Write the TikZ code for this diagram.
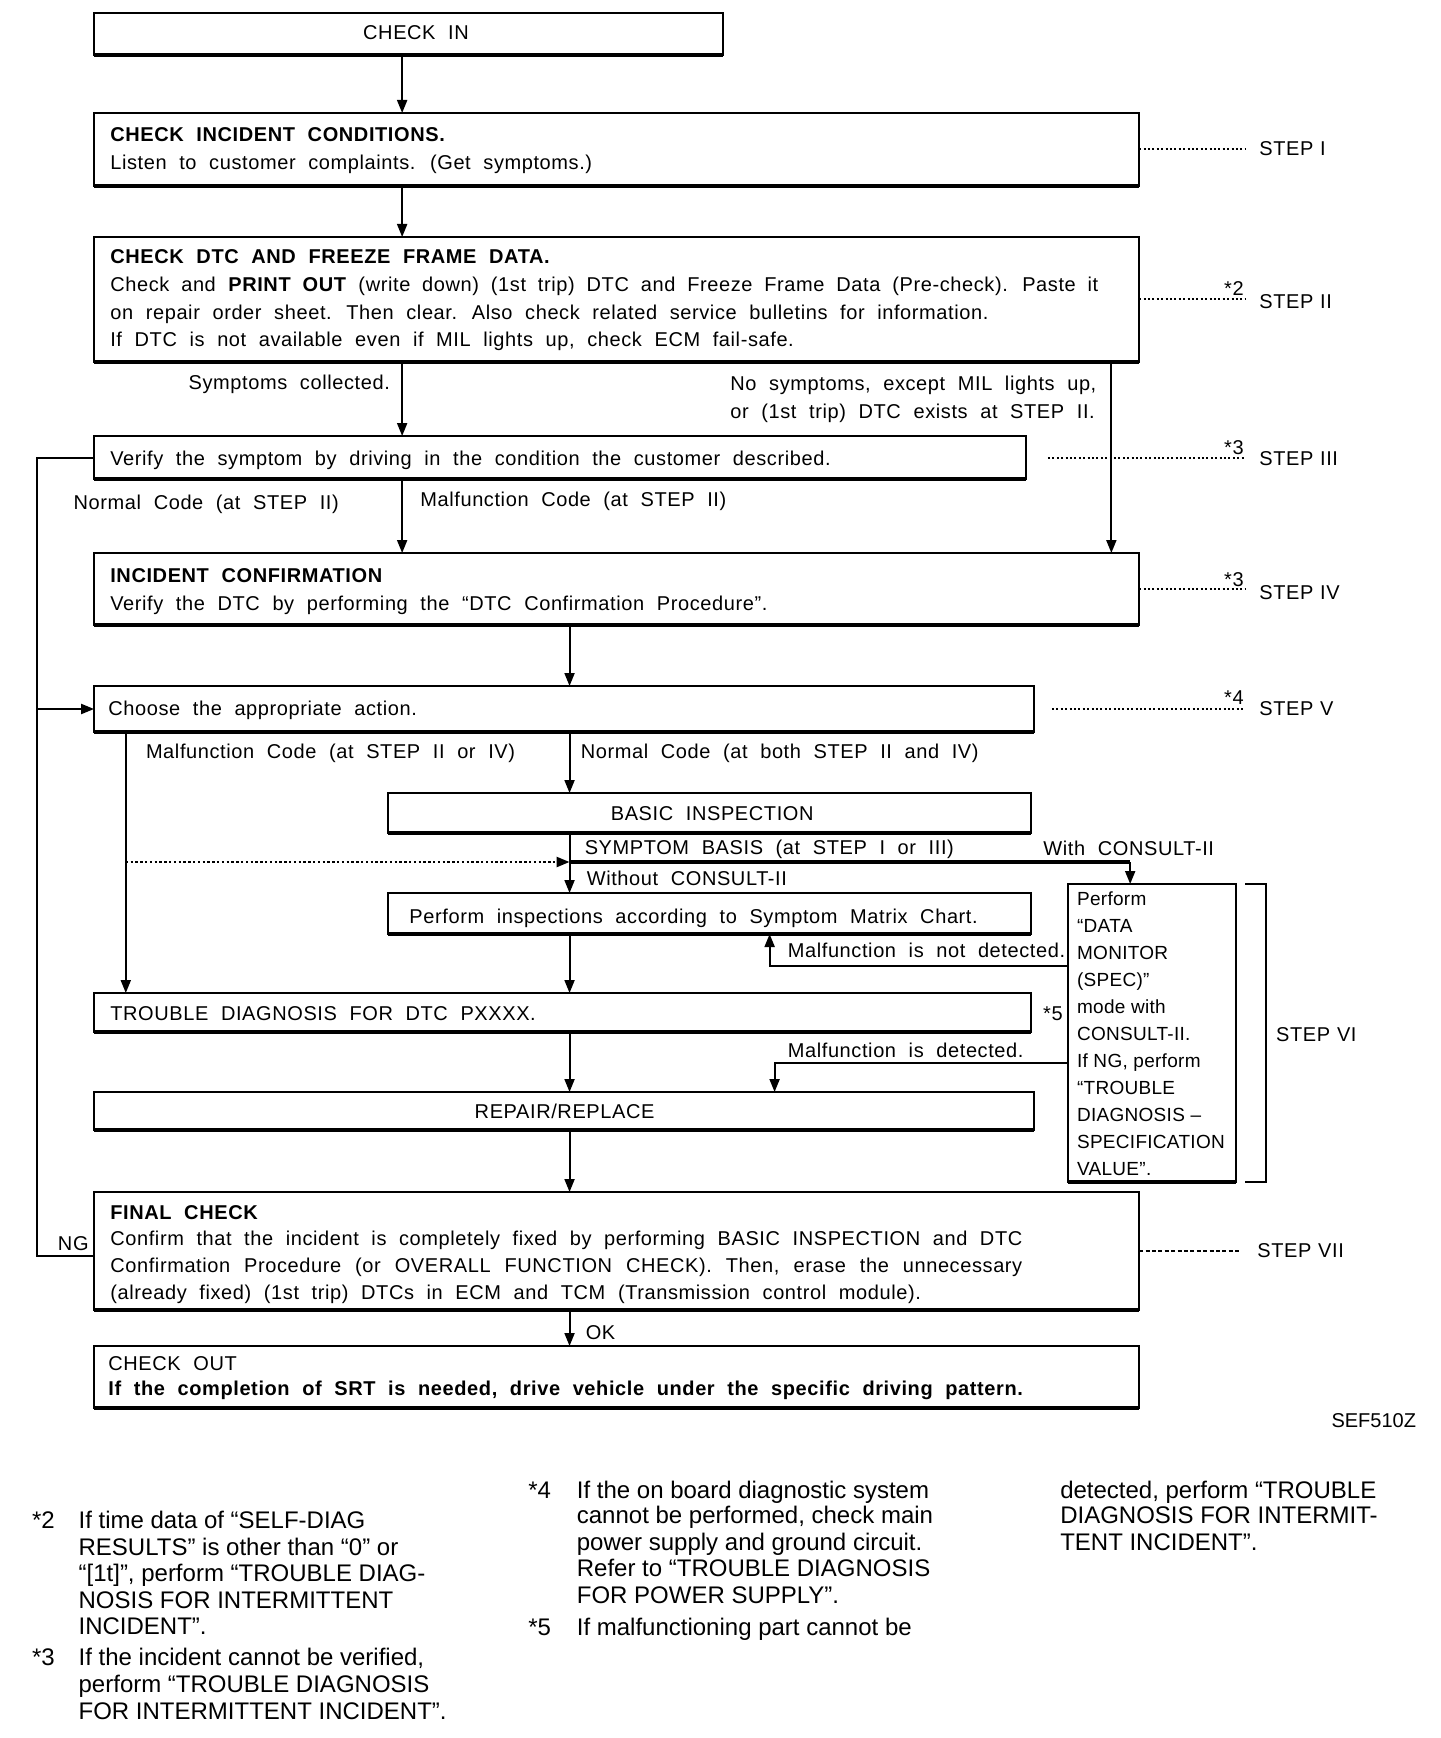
\documentclass[tikz,border=0pt]{standalone}
\usepackage{fontspec}
\setmainfont{Liberation Sans}[WordSpace=2.05, LetterSpace=3]
\newfontfamily\fnfont{Liberation Sans}
\newfontfamily\plainfont{Liberation Sans}[LetterSpace=1.5]
\usetikzlibrary{arrows.meta}
\newcommand\flowbox[5]{%
  \node[boxst, minimum width={(#4-#2)*0.49525pt}, minimum height={(#5-#3)*0.5pt}] (#1) at (#2,#3) {};
  \draw[line width=1.7pt] (#1.south west) -- (#1.south east);}
\newcommand\jline[2]{\makebox[#1][s]{#2}}
\newcommand\stp[1]{STEP\hspace{3.4pt}#1}
\begin{document}
\begin{tikzpicture}[x=0.49525pt,y=-0.5pt,
  boxst/.style={draw, line width=0.9pt, inner sep=0pt, outer sep=0pt, anchor=north west},
  txt/.style={anchor=west, inner sep=0pt, text height=7pt, text depth=0pt, font=\fontsize{10pt}{12pt}\selectfont},
  ctxt/.style={anchor=west, inner sep=0pt, text height=7pt, text depth=0pt, font=\plainfont\fontsize{9.5pt}{12pt}\selectfont},
  fn/.style={anchor=west, inner sep=0pt, text height=8.6pt, text depth=0pt, font=\fnfont\fontsize{12pt}{13pt}\selectfont},
  arr/.style={line width=1pt, -{Triangle[length=6.5pt,width=5pt]}},
  conn/.style={line width=1pt},
  stepdot/.style={line width=1pt, dash pattern=on 1pt off 1.2pt},
  stepdash/.style={line width=0.6pt, dash pattern=on 2pt off 1.2pt},
]
\useasboundingbox (0,0) rectangle (1454,1738);

% ---------- boxes ----------
\flowbox{checkin}{95}{13}{730}{55}
\flowbox{b1}{95}{113}{1150}{186}
\flowbox{b2}{95}{237}{1150}{362}
\flowbox{b3}{95}{436}{1036}{479}
\flowbox{b4}{95}{553}{1150}{625}
\flowbox{b5}{95}{686}{1044}{732}
\flowbox{bi}{392}{793}{1041}{833}
\flowbox{pi}{392}{893}{1041}{934}
\flowbox{td}{95}{993}{1041}{1032}
\flowbox{rr}{95}{1092}{1044}{1130}
\flowbox{fc}{95}{1192}{1150}{1310}
\flowbox{co}{95}{1346}{1150}{1408}
\flowbox{cons}{1078}{884}{1248}{1182}

% ---------- box texts ----------
\node[txt, anchor=center] (t0) at (420,33) {CHECK IN};
\node[txt] (t1a) at (111,135) {\textbf{CHECK INCIDENT CONDITIONS.}};
\node[txt] (t1b) at (111,163) {Listen to customer complaints. (Get symptoms.)};
\node[txt] (t2a) at (111,257) {\textbf{CHECK DTC AND FREEZE FRAME DATA.}};
\node[txt] (t2b) at (111,285) {\jline{494pt}{Check and \textbf{PRINT OUT} (write down) (1st trip) DTC and Freeze Frame Data (Pre-check). Paste it}};
\node[txt] (t2c) at (111,313) {on repair order sheet. Then clear. Also check related service bulletins for information.};
\node[txt] (t2d) at (111,340) {If DTC is not available even if MIL lights up, check ECM fail-safe.};
\node[txt] (t3) at (111,458) {Verify the symptom by driving in the condition the customer described.};
\node[txt] (t4a) at (111,575) {\textbf{INCIDENT CONFIRMATION}};
\node[txt] (t4b) at (111,603) {Verify the DTC by performing the “DTC Confirmation Procedure”.};
\node[txt] (t5) at (109,708) {Choose the appropriate action.};
\node[txt, anchor=center] (tbi) at (719,813) {BASIC INSPECTION};
\node[txt] (tpi) at (413,916) {Perform inspections according to Symptom Matrix Chart.};
\node[txt] (ttd) at (111,1013) {TROUBLE DIAGNOSIS FOR DTC PXXXX.};
\node[txt, anchor=center] (trr) at (570,1111) {REPAIR/REPLACE};
\node[txt] (tfa) at (111,1212) {\textbf{FINAL CHECK}};
\node[txt] (tfb) at (111,1238) {\jline{456pt}{Confirm that the incident is completely fixed by performing BASIC INSPECTION and DTC}};
\node[txt] (tfc) at (111,1265) {\jline{456pt}{Confirmation Procedure (or OVERALL FUNCTION CHECK). Then, erase the unnecessary}};
\node[txt] (tfd) at (111,1292) {(already fixed) (1st trip) DTCs in ECM and TCM (Transmission control module).};
\node[txt] (tca) at (109,1363) {CHECK OUT};
\node[txt] (tcb) at (109,1388) {\textbf{If the completion of SRT is needed, drive vehicle under the specific driving pattern.}};

% consult box lines
\node[ctxt] (c1) at (1087,898) {Perform};
\node[ctxt] (c2) at (1087,925) {“DATA};
\node[ctxt] (c3) at (1087,952) {MONITOR};
\node[ctxt] (c4) at (1087,979) {(SPEC)”};
\node[ctxt] (c5) at (1087,1006) {mode with};
\node[ctxt] (c6) at (1087,1033) {CONSULT-II.};
\node[ctxt] (c7) at (1087,1060) {If NG, perform};
\node[ctxt] (c8) at (1087,1087) {“TROUBLE};
\node[ctxt] (c9) at (1087,1114) {DIAGNOSIS –};
\node[ctxt] (c10) at (1087,1141) {SPECIFICATION};
\node[ctxt] (c11) at (1087,1168) {VALUE”.};

% ---------- connector labels ----------
\node[txt, anchor=east] (l1) at (394,382) {Symptoms collected.};
\node[txt] (l2) at (737,383) {No symptoms, except MIL lights up,};
\node[txt] (l3) at (737,411) {or (1st trip) DTC exists at STEP II.};
\node[txt] (l4) at (74,502) {Normal Code (at STEP II)};
\node[txt] (l5) at (424,499) {Malfunction Code (at STEP II)};
\node[txt] (l6) at (147,751) {Malfunction Code (at STEP II or IV)};
\node[txt] (l7) at (586,751) {Normal Code (at both STEP II and IV)};
\node[txt] (l8) at (590,847) {SYMPTOM BASIS (at STEP I or III)};
\node[txt] (l9) at (1053,848) {With CONSULT-II};
\node[txt] (l10) at (592,878) {Without CONSULT-II};
\node[txt] (l11) at (795,950) {Malfunction is not detected.};
\node[txt] (l12) at (795,1050) {Malfunction is detected.};
\node[txt, anchor=center] (l13) at (1063,1013) {*5};
\node[txt, anchor=center] (ng) at (74,1243) {NG};
\node[txt] (ok) at (591,1332) {OK};
\node[txt, anchor=east, font=\fnfont\fontsize{10pt}{12pt}\selectfont] (sef) at (1430,1420) {SEF510Z};

% ---------- connectors ----------
\draw[arr] (406,0 |- checkin.south) -- (406,0 |- b1.north);
\draw[arr] (406,0 |- b1.south) -- (406,0 |- b2.north);
\draw[arr] (406,0 |- b2.south) -- (406,0 |- b3.north);
\draw[arr] (1122,0 |- b2.south) -- (1122,0 |- b4.north);
\draw[arr] (406,0 |- b3.south) -- (406,0 |- b4.north);
\draw[arr] (575,0 |- b4.south) -- (575,0 |- b5.north);
\coordinate (ngend) at ([yshift=-2.5pt]fc.west);
\draw[conn] (b3.west) -- (37,0 |- b3.west) -- (37,0 |- ngend) -- (ngend);
\coordinate (lj) at (37,0 |- b5.west);
\draw[arr] (lj) -- (b5.west);
\draw[arr] (575,0 |- b5.south) -- (575,0 |- bi.north);
\draw[arr] (127,0 |- b5.south) -- (127,0 |- td.north);
\coordinate (jn) at (575,862);
\coordinate (dl) at (127,862);
\coordinate (jr) at (1141,862);
\draw[arr] (575,0 |- bi.south) -- (575,0 |- pi.north);
\draw[line width=1.6pt] (jn) -- (jr);
\draw[arr] (jr) -- (jr |- cons.north);
\draw[line width=1.2pt, dash pattern=on 1.2pt off 1.2pt, -{Triangle[length=6.5pt,width=5pt]}] (dl) -- (jn);
\draw[arr] (cons.west |- 0,966) -- (777,966) -- (777,0 |- pi.south);
\draw[arr] (575,0 |- pi.south) -- (575,0 |- td.north);
\draw[arr] (575,0 |- td.south) -- (575,0 |- rr.north);
\draw[arr] (cons.west |- 0,1063) -- (782,1063) -- (782,0 |- rr.north);
\draw[arr] (575,0 |- rr.south) -- (575,0 |- fc.north);
\draw[arr] (575,0 |- fc.south) -- (575,0 |- co.north);

% ---------- step marks ----------
\draw[stepdot] (b1.east) -- (1257,0 |- b1.east);
\node[txt] (s1) at (1271,149) {\stp{I}};
\draw[stepdot] (b2.east) -- (1257,0 |- b2.east);
\node[txt, anchor=base east] (n2) at (1256,296) {*2};
\node[txt] (s2) at (1271,302) {\stp{II}};
\draw[stepdot] (1058,0 |- b3.east) -- (1257,0 |- b3.east);
\node[txt, anchor=base east] (n3) at (1256,454) {*3};
\node[txt] (s3) at (1271,458) {\stp{III}};
\draw[stepdot] (b4.east) -- (1257,0 |- b4.east);
\node[txt, anchor=base east] (n3b) at (1256,586) {*3};
\node[txt] (s4) at (1271,592) {\stp{IV}};
\draw[stepdot] (1062,0 |- b5.east) -- (1257,0 |- b5.east);
\node[txt, anchor=base east] (n4) at (1256,704) {*4};
\node[txt] (s5) at (1271,708) {\stp{V}};
\draw[line width=1pt] (1257,0 |- cons.north) -- (1278,0 |- cons.north) -- (1278,0 |- cons.south) -- (1257,0 |- cons.south);
\node[txt] (s6) at (1288,1034) {\stp{VI}};
\draw[stepdash] (fc.east) -- (1252,0 |- fc.east);
\node[txt] (s7) at (1269,1250) {\stp{VII}};

% ---------- footnotes ----------
\node[fn] (f2) at (32,1520) {*2};
\node[fn] (f2a) at (79,1520) {If time data of “SELF-DIAG};
\node[fn] (f2b) at (79,1547) {RESULTS” is other than “0” or};
\node[fn] (f2c) at (79,1573) {“[1t]”, perform “TROUBLE DIAG-};
\node[fn] (f2d) at (79,1600) {NOSIS FOR INTERMITTENT};
\node[fn] (f2e) at (79,1626) {INCIDENT”.};
\node[fn] (f3) at (32,1657) {*3};
\node[fn] (f3a) at (79,1657) {If the incident cannot be verified,};
\node[fn] (f3b) at (79,1684) {perform “TROUBLE DIAGNOSIS};
\node[fn] (f3c) at (79,1711) {FOR INTERMITTENT INCIDENT”.};
\node[fn] (f4) at (533,1490) {*4};
\node[fn] (f4a) at (582,1490) {If the on board diagnostic system};
\node[fn] (f4b) at (582,1515) {cannot be performed, check main};
\node[fn] (f4c) at (582,1542) {power supply and ground circuit.};
\node[fn] (f4d) at (582,1568) {Refer to “TROUBLE DIAGNOSIS};
\node[fn] (f4e) at (582,1595) {FOR POWER SUPPLY”.};
\node[fn] (f5) at (533,1627) {*5};
\node[fn] (f5a) at (582,1627) {If malfunctioning part cannot be};
\node[fn] (f5b) at (1070,1490) {detected, perform “TROUBLE};
\node[fn] (f5c) at (1070,1515) {DIAGNOSIS FOR INTERMIT-};
\node[fn] (f5d) at (1070,1542) {TENT INCIDENT”.};
\end{tikzpicture}
\end{document}
